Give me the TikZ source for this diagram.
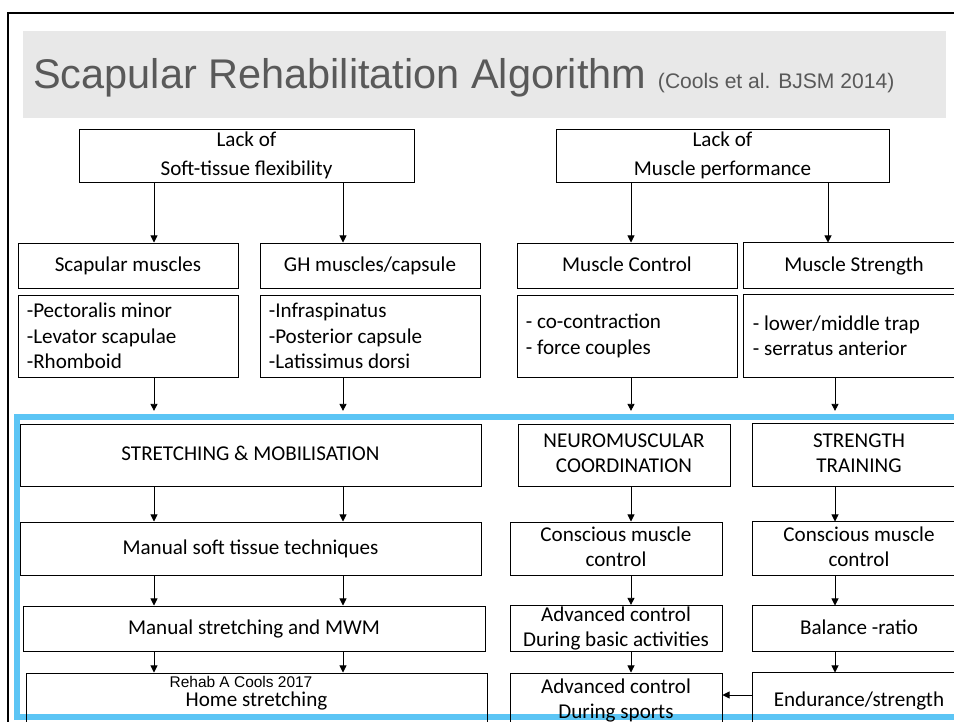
\documentclass[tikz,border=0pt]{standalone}
\usepackage{fontspec}
\setmainfont{Carlito}
\usepackage{tikz}
\usetikzlibrary{arrows.meta}
\usepackage{xcolor}
\definecolor{bandgray}{RGB}{232,232,232}
\definecolor{titlegray}{RGB}{89,89,89}
\definecolor{zoneblue}{RGB}{92,197,245}
\newcommand{\slidetitle}{\fontspec{Liberation Sans}\fontsize{29.5pt}{34pt}\selectfont}
\newcommand{\slidecite}{\fontspec{Liberation Sans}\fontsize{15pt}{18pt}\selectfont}
\newcommand{\slidefoot}{\fontspec{Liberation Sans}\fontsize{11pt}{13pt}\selectfont}
\newcommand{\boxtext}{\fontsize{15pt}{18pt}\selectfont}

\tikzset{
    framed/.style={draw, line width=0.7pt, inner sep=1pt, font=\boxtext},
    box/.style={framed, align=center, text depth=0.25em},
    listbox/.style={framed, align=flush left, inner xsep=0.22cm, text width=5.06cm, minimum width=5.5cm},
    open/.style={draw=none},
    frame/.style={line width=0.7pt},
    arr/.style={-{Triangle[width=5pt,length=5pt]}, line width=0.6pt},
}

\begin{document}
\begin{tikzpicture}
    \useasboundingbox (0,0) rectangle (23.85,-18.05);
    \clip (0,0) rectangle (23.85,-18.05);

    \draw[line width=1.4pt] (0.19,-18.05) |- (23.9,-0.3175);
    \fill[bandgray] (0.575,-0.775) rectangle (23.65,-2.95);
    \node[anchor=base west, inner sep=0pt, text=titlegray] (title) at (0.825,-2.225)
        {\slidetitle Scapular Rehabilitation Algorithm \slidecite(Cools et al. BJSM 2014)};

    % deficits
    \node[box, minimum width=8.375cm, minimum height=1.325cm, font=\fontsize{15pt}{20.5pt}\selectfont] (soft) at (6.1625,-3.8875) {Lack of\\Soft-tissue flexibility};
    \node[box, minimum width=8.325cm, minimum height=1.325cm, font=\fontsize{15pt}{20.5pt}\selectfont] (perf) at (18.0625,-3.8875) {Lack of\\Muscle performance};

    \node[box, minimum width=5.5cm, minimum height=1.125cm] (scap) at (3.2,-6.6375) {Scapular muscles};
    \node[box, minimum width=5.5cm, minimum height=1.125cm] (gh) at (9.25,-6.6375) {GH muscles/capsule};
    \node[box, minimum width=5.5cm, minimum height=1.125cm] (ctrl) at (15.675,-6.6375) {Muscle Control};
    \node[box, open, minimum width=5.5cm, minimum height=1.125cm] (str) at (21.35,-6.6375) {Muscle Strength};

    \node[listbox, minimum height=2.05cm] (scaplist) at (3.2,-8.4) {-Pectoralis minor\\-Levator scapulae\\-Rhomboid};
    \node[listbox, minimum height=2.05cm] (ghlist) at (9.25,-8.4) {-Infraspinatus\\-Posterior capsule\\-Latissimus dorsi};
    \node[listbox, minimum height=2.05cm] (ctrllist) at (15.675,-8.4) {- co-contraction\\- force couples};
    \node[listbox, open, minimum height=2.05cm] (strlist) at (21.35,-8.4) {- lower/middle trap\\- serratus anterior};

    \draw[arr] (soft.south -| 3.85,0) -- (scap.north -| 3.85,0);
    \draw[arr] (soft.south -| 8.575,0) -- (gh.north -| 8.575,0);
    \draw[arr] (perf.south -| 15.775,0) -- (ctrl.north -| 15.775,0);
    \draw[arr] (perf.south -| 20.7,0) -- (str.north -| 20.7,0);

    % treatment
    \node[draw=zoneblue, line width=4.3pt, minimum width=24.575cm, minimum height=7.5cm] (zone) at (12.7125,-14.175) {};

    \draw[arr, shorten >=2.2pt] (scaplist.south -| 3.85,0) -- (zone.north -| 3.85,0);
    \draw[arr, shorten >=2.2pt] (ghlist.south -| 8.575,0) -- (zone.north -| 8.575,0);
    \draw[arr, shorten >=2.2pt] (ctrllist.south -| 15.775,0) -- (zone.north -| 15.775,0);
    \draw[arr, shorten >=2.2pt] (strlist.south -| 20.875,0) -- (zone.north -| 20.875,0);

    \node[box, minimum width=11.525cm, minimum height=1.55cm] (stretch) at (6.2625,-11.375) {STRETCHING \& MOBILISATION};
    \node[box, minimum width=5.3cm, minimum height=1.55cm] (neuro) at (15.6,-11.375) {NEUROMUSCULAR\\COORDINATION};
    \node[box, open, minimum width=5.3cm, minimum height=1.55cm] (train) at (21.475,-11.375) {STRENGTH\\TRAINING};

    \node[box, minimum width=11.525cm, minimum height=1.325cm] (soft tissue) at (6.2625,-13.7125) {Manual soft tissue techniques};
    \node[box, minimum width=5.3cm, minimum height=1.325cm] (consc1) at (15.4,-13.7125) {Conscious muscle\\control};
    \node[box, open, minimum width=5.3cm, minimum height=1.325cm] (consc2) at (21.475,-13.7125) {Conscious muscle\\control};

    \node[box, minimum width=11.55cm, minimum height=1.125cm] (mwm) at (6.35,-15.7125) {Manual stretching and MWM};
    \node[box, minimum width=5.3cm, minimum height=1.125cm] (basic) at (15.4,-15.7125) {Advanced control\\During basic activities};
    \node[box, open, minimum width=5.3cm, minimum height=1.125cm] (ratio) at (21.475,-15.7125) {Balance -ratio};

    \node[box, minimum width=11.525cm, minimum height=1.375cm] (home) at (6.4125,-17.5125) {Home stretching};
    \node[box, minimum width=5.3cm, minimum height=1.375cm] (sports) at (15.4,-17.5125) {Advanced control\\During sports};
    \node[box, open, minimum width=5.3cm, minimum height=1.375cm] (endur) at (21.475,-17.5125) {Endurance/strength};

    % right-hand boxes run off the slide
    \foreach \n in {str,strlist,train,consc2,ratio,endur}
        \draw[frame] (\n.north -| 24.6,0) -- (\n.north west) -- (\n.south west) -- (\n.south -| 24.6,0);

    \draw[arr] (stretch.south -| 3.85,0) -- (soft tissue.north -| 3.85,0);
    \draw[arr] (stretch.south -| 8.575,0) -- (soft tissue.north -| 8.575,0);
    \draw[arr] (soft tissue.south -| 3.85,0) -- (mwm.north -| 3.85,0);
    \draw[arr] (soft tissue.south -| 8.575,0) -- (mwm.north -| 8.575,0);
    \draw[arr] (mwm.south -| 3.85,0) -- (home.north -| 3.85,0);
    \draw[arr] (mwm.south -| 8.575,0) -- (home.north -| 8.575,0);

    \draw[arr] (neuro.south -| 15.775,0) -- (consc1.north -| 15.775,0);
    \draw[arr] (consc1.south -| 15.775,0) -- (basic.north -| 15.775,0);
    \draw[arr] (basic.south -| 15.775,0) -- (sports.north -| 15.775,0);

    \draw[arr] (train.south -| 20.875,0) -- (consc2.north -| 20.875,0);
    \draw[arr] (consc2.south -| 20.875,0) -- (ratio.north -| 20.875,0);
    \draw[arr] (ratio.south -| 20.875,0) -- (endur.north -| 20.875,0);
    \draw[arr] (endur.west |- 0,-17.375) -- (sports.east |- 0,-17.375);

    \node[anchor=base, inner sep=0pt] (credit) at (6.025,-17.175) {\slidefoot Rehab A Cools 2017};
\end{tikzpicture}
\end{document}
